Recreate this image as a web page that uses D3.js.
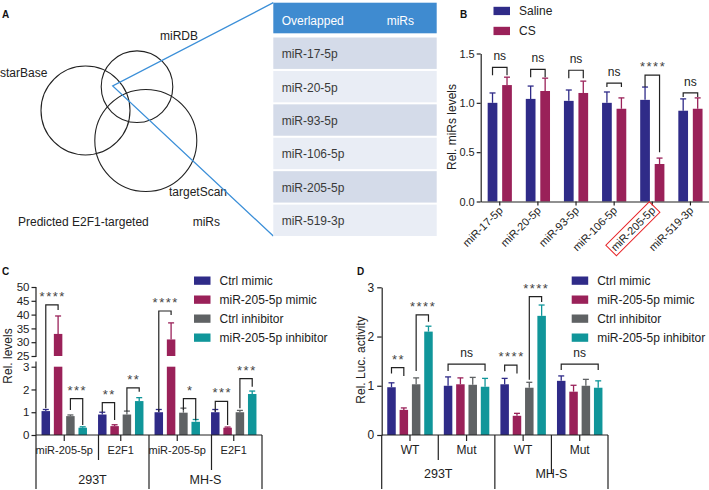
<!DOCTYPE html>
<html>
<head>
<meta charset="utf-8">
<script src="https://cdn.jsdelivr.net/npm/d3@7"></script>
<style>
  body { margin: 0; background: #fff; }
  svg { font-family: "Liberation Sans", Arial, sans-serif; }
</style>
</head>
<body>
<svg id="fig" width="709" height="490"></svg>
<script>
// ---- data ----
var vennSets = ["starBase", "miRDB", "targetScan"];
var vennCaption = ["Predicted E2F1-targeted", "miRs"];
var tableHeader = ["Overlapped", "miRs"];
var overlapMirs = ["miR-17-5p", "miR-20-5p", "miR-93-5p", "miR-106-5p", "miR-205-5p", "miR-519-3p"];

var bGroups = ["Saline", "CS"];
var bSaline = [1.00, 1.04, 1.02, 1.00, 1.03, 0.92];
var bSalineErr = [0.10, 0.13, 0.11, 0.11, 0.13, 0.12];
var bCS = [1.18, 1.12, 1.10, 0.94, 0.38, 0.94];
var bCSErr = [0.08, 0.13, 0.12, 0.11, 0.06, 0.11];
var bSig = ["ns", "ns", "ns", "ns", "****", "ns"];
var bSigTop = [1.36, 1.34, 1.33, 1.20, 1.28, 1.10];
var bSigLegs = [[1.28, 1.28], [1.26, 1.26], [1.25, 1.25], [1.16, 1.16], [1.16, 0.50], [1.06, 1.06]];
var bYTicks = [0, 0.5, 1.0, 1.5];
var bHighlight = "miR-205-5p";

var treatments = ["Ctrl mimic", "miR-205-5p mimic", "Ctrl inhibitor", "miR-205-5p inhibitor"];
var cellLines = ["293T", "MH-S"];

// panel C: rows = 293T miR-205-5p, 293T E2F1, MH-S miR-205-5p, MH-S E2F1
var cTargets = ["miR-205-5p", "E2F1"];
var cMean = [[1.05, 33.0, 0.83, 0.32], [0.90, 0.39, 0.90, 1.49], [1.00, 31.0, 0.98, 0.58], [1.00, 0.32, 1.00, 1.80]];
var cErr = [[0.07, 6.5, 0.05, 0.04], [0.10, 0.06, 0.15, 0.15], [0.12, 6.0, 0.20, 0.10], [0.12, 0.03, 0.08, 0.13]];
var cLowTicks = [0, 1, 2, 3];
var cHighTicks = [25, 30, 35, 40, 45, 50];
var cSig = [
  {sub: 0, pair: [0, 1], label: "****", top: 43.5, legs: [1.17, 41.7]},
  {sub: 0, pair: [2, 3], label: "***", top: 1.60, legs: [1.10, 0.44]},
  {sub: 1, pair: [0, 1], label: "**", top: 1.42, legs: [1.00, 0.66]},
  {sub: 1, pair: [2, 3], label: "**", top: 2.07, legs: [1.03, 1.90]},
  {sub: 2, pair: [0, 1], label: "****", top: 41.3, legs: [1.02, 39.9]},
  {sub: 2, pair: [2, 3], label: "*", top: 1.60, legs: [1.10, 0.66]},
  {sub: 3, pair: [0, 1], label: "***", top: 1.48, legs: [1.02, 0.44]},
  {sub: 3, pair: [2, 3], label: "***", top: 2.48, legs: [1.17, 2.12]}
];

// panel D
var dSites = ["WT", "Mut"];
var dMean = [[0.97, 0.51, 1.03, 2.10], [1.00, 1.03, 1.02, 0.98], [1.03, 0.39, 0.96, 2.42], [1.10, 0.88, 1.00, 0.96]];
var dErr = [[0.09, 0.04, 0.13, 0.11], [0.18, 0.13, 0.15, 0.17], [0.12, 0.05, 0.11, 0.22], [0.10, 0.13, 0.13, 0.14]];
var dTicks = [0, 1, 2, 3];
var dSig = [
  {sub: 0, pair: [0, 1], label: "**", top: 1.37, legs: [1.25, 1.20]},
  {sub: 0, pair: [2, 3], label: "****", top: 2.44, legs: [1.30, 2.30]},
  {sub: 1, pair: [0, 3], label: "ns", top: 1.44, legs: [1.30, 1.30]},
  {sub: 2, pair: [0, 1], label: "****", top: 1.42, legs: [1.29, 1.25]},
  {sub: 2, pair: [2, 3], label: "****", top: 2.81, legs: [1.12, 2.70]},
  {sub: 3, pair: [0, 3], label: "ns", top: 1.44, legs: [1.32, 1.32]}
];

// ---- style ----
var FONT = "'Liberation Sans', Arial, sans-serif";
var ink = "#222";
var barColors = ["#2f2b88", "#9a2159", "#5f6264", "#10969a"];

var svg = d3.select("#fig");

function panelLabel(t, x, y) {
  svg.append("text").attr("x", x).attr("y", y).attr("font-size", 10)
    .attr("font-weight", "bold").attr("fill", "#111").text(t);
}

function errorBars(g, data, fx, fy0, fy1, fc) {
  var e = g.selectAll(null).data(data).enter().append("g")
    .attr("stroke", fc).attr("stroke-width", 1.3);
  e.append("line").attr("x1", fx).attr("x2", fx).attr("y1", fy0).attr("y2", fy1);
  e.append("line").attr("x1", function(d) { return fx(d) - 3; })
    .attr("x2", function(d) { return fx(d) + 3; })
    .attr("y1", fy1).attr("y2", fy1);
}

function bracket(g, x1, x2, yTop, yL, yR, label) {
  g.append("path")
    .attr("d", "M" + x1 + "," + yL + "V" + yTop + "H" + x2 + "V" + yR)
    .attr("fill", "none").attr("stroke", ink).attr("stroke-width", 1.2);
  var star = label.indexOf("*") >= 0;
  g.append("text")
    .attr("x", (x1 + x2) / 2 + (star ? 0.8 : 0))
    .attr("y", star ? yTop - 4 : yTop - 7)
    .attr("text-anchor", "middle")
    .attr("font-size", star ? 13 : 12)
    .attr("letter-spacing", star ? "1.5px" : null)
    .attr("fill", star ? "#444" : ink)
    .text(label);
}

function legend(g, names, colors, x, y0, step) {
  var it = g.selectAll(null).data(names).enter().append("g")
    .attr("transform", function(d, i) { return "translate(" + x + "," + (y0 + i * step) + ")"; });
  it.append("rect").attr("x", 0).attr("y", -4).attr("width", 16.5).attr("height", 8.3)
    .attr("fill", function(d, i) { return colors[i]; });
  it.append("text").attr("x", 25.5).attr("y", 4.3).attr("font-size", 12).attr("fill", ink)
    .text(function(d) { return d; });
}

function yLabel(t, x, y) {
  svg.append("text").attr("transform", "translate(" + x + "," + y + ") rotate(-90)")
    .attr("text-anchor", "middle").attr("font-size", 12).attr("fill", ink).text(t);
}

function styleAxis(sel, size) {
  sel.attr("font-family", FONT).attr("font-size", size).attr("color", ink);
  sel.selectAll("line, path").attr("stroke-width", 1.2);
}

// ======== Panel A ========
panelLabel("A", 2, 18);
var gA = svg.append("g");
var vennGeom = [{cx: 85.5, cy: 110.5, r: 44.5}, {cx: 137, cy: 86.7, r: 35.8}, {cx: 145.8, cy: 140.5, r: 51}];
gA.selectAll("circle").data(vennSets).enter().append("circle")
  .attr("cx", function(d, i) { return vennGeom[i].cx; })
  .attr("cy", function(d, i) { return vennGeom[i].cy; })
  .attr("r", function(d, i) { return vennGeom[i].r; })
  .attr("fill", "none").attr("stroke", "#222").attr("stroke-width", 1.1);
var vennLabelPos = [[0, 77], [160, 40], [169, 196]];
gA.selectAll("text.venn").data(vennSets).enter().append("text")
  .attr("x", function(d, i) { return vennLabelPos[i][0]; })
  .attr("y", function(d, i) { return vennLabelPos[i][1]; })
  .attr("font-size", 12).attr("fill", ink).text(function(d) { return d; });
gA.selectAll("text.cap").data(vennCaption).enter().append("text")
  .attr("x", function(d, i) { return i === 0 ? 18 : 192.7; }).attr("y", 225.5)
  .attr("font-size", 12).attr("fill", ink).text(function(d) { return d; });

// table
var tX0 = 273.3, tX1 = 436.7;
var rowY = d3.scaleBand().domain(overlapMirs).range([37.5, 236]).paddingInner(0.06);
gA.append("path")
  .attr("d", "M" + tX0 + ",2.7L112.7,86L" + tX0 + ",236")
  .attr("fill", "none").attr("stroke", "#3b8fd8").attr("stroke-width", 1.3);
gA.append("rect").attr("x", tX0).attr("y", 2.7).attr("width", tX1 - tX0).attr("height", 30.6)
  .attr("fill", "#3f8bd0");
gA.selectAll("text.hd").data(tableHeader).enter().append("text")
  .attr("x", function(d, i) { return i === 0 ? 281.7 : 386.7; }).attr("y", 25)
  .attr("font-size", 12).attr("fill", "#fff").text(function(d) { return d; });
gA.selectAll("rect.row").data(overlapMirs).enter().append("rect")
  .attr("x", tX0).attr("width", tX1 - tX0)
  .attr("y", function(d) { return rowY(d); }).attr("height", rowY.bandwidth())
  .attr("fill", function(d, i) { return i % 2 === 0 ? "#d4dbe9" : "#e9edf5"; });
gA.selectAll("text.row").data(overlapMirs).enter().append("text")
  .attr("x", 281.7).attr("y", function(d) { return rowY(d) + rowY.bandwidth() / 2 + 5; })
  .attr("font-size", 12).attr("fill", "#3a3a3a").text(function(d) { return d; });

// ======== Panel B ========
panelLabel("B", 460, 18);
var gB = svg.append("g");
var xB = d3.scaleBand().domain(overlapMirs).range([480.7, 709.5]);
var xBin = d3.scaleBand().domain(bGroups).range([0, xB.bandwidth()]).paddingInner(0.33).paddingOuter(0.48);
var yB = d3.scaleLinear().domain([0, 1.5]).range([201.5, 53.5]);
var bColor = d3.scaleOrdinal().domain(bGroups).range([barColors[0], barColors[1]]);

var bFlat = [];
overlapMirs.forEach(function(m, i) {
  bFlat.push({mir: m, grp: "Saline", v: bSaline[i], e: bSalineErr[i]});
  bFlat.push({mir: m, grp: "CS", v: bCS[i], e: bCSErr[i]});
});
function bCx(d) { return xB(d.mir) + xBin(d.grp) + xBin.bandwidth() / 2; }

errorBars(gB, bFlat, bCx, function(d) { return yB(d.v); }, function(d) { return yB(d.v + d.e); },
  function(d) { return bColor(d.grp); });
gB.selectAll("rect.bar").data(bFlat).enter().append("rect")
  .attr("x", function(d) { return xB(d.mir) + xBin(d.grp); })
  .attr("width", xBin.bandwidth())
  .attr("y", function(d) { return yB(d.v); })
  .attr("height", function(d) { return yB(0) - yB(d.v); })
  .attr("fill", function(d) { return bColor(d.grp); });

var axBy = gB.append("g").attr("transform", "translate(480.7,0)")
  .call(d3.axisLeft(yB).tickValues(bYTicks).tickFormat(d3.format(".1f")).tickSize(4).tickSizeOuter(0).tickPadding(2));
styleAxis(axBy, 11);
var axBx = gB.append("g").attr("transform", "translate(0,201.5)")
  .call(d3.axisBottom(xB).tickSize(4).tickSizeOuter(0));
styleAxis(axBx, 11);
axBx.selectAll(".tick text")
  .attr("text-anchor", "end")
  .attr("transform", "translate(1,7) rotate(-45)")
  .attr("y", 0).attr("dy", "0.35em");
axBx.selectAll(".tick").filter(function(d) { return d === bHighlight; }).each(function() {
  var t = d3.select(this).select("text");
  var bb = t.node().getBBox();
  d3.select(this).insert("rect", "text")
    .attr("x", bb.x - 2).attr("y", bb.y - 1.5).attr("width", bb.width + 4).attr("height", bb.height + 3)
    .attr("transform", t.attr("transform"))
    .attr("fill", "none").attr("stroke", "#e8262b").attr("stroke-width", 1);
});

overlapMirs.forEach(function(m, i) {
  var x1 = xB(m) + xBin("Saline") + xBin.bandwidth() / 2;
  var x2 = xB(m) + xBin("CS") + xBin.bandwidth() / 2;
  bracket(gB, x1, x2, yB(bSigTop[i]), yB(bSigLegs[i][0]), yB(bSigLegs[i][1]), bSig[i]);
});
legend(gB, bGroups, [barColors[0], barColors[1]], 493.5, 10.8, 20);
yLabel("Rel. miRs levels", 455.5, 127);

// ======== shared grouped-bar helpers (C, D) ========
function nestedAxis(g, xG, y0, subNames, subFont, subBase, cellBase, innerEnds, innerShift) {
  var r = xG.range(), bw = xG.bandwidth();
  var ln = function(x1, y1, x2, y2) {
    g.append("line").attr("x1", x1).attr("y1", y1).attr("x2", x2).attr("y2", y2)
      .attr("stroke", ink).attr("stroke-width", 1.2);
  };
  ln(r[0], y0, r[1], y0);
  xG.domain().forEach(function(k, i) {
    ln(xG(k) + bw / 2, y0, xG(k) + bw / 2, y0 + 6);
    if (i % 2 === 1) ln(xG(k) + innerShift, y0, xG(k) + innerShift, innerEnds[(i - 1) / 2]);
  });
  ln(r[0], y0, r[0], 489);
  ln(xG(2), y0, xG(2), 489);
  ln(r[1], y0, r[1], 489);
  g.selectAll(null).data(xG.domain()).enter().append("text")
    .attr("x", function(k) { return xG(k) + bw / 2; }).attr("y", subBase)
    .attr("text-anchor", "middle").attr("font-size", subFont).attr("fill", ink)
    .text(function(k, i) { return subNames[i]; });
  g.selectAll(null).data(cellLines).enter().append("text")
    .attr("x", function(c, i) { return i === 0 ? (r[0] + xG(2)) / 2 : (xG(2) + r[1]) / 2; })
    .attr("y", cellBase).attr("text-anchor", "middle").attr("font-size", 12.5).attr("fill", ink)
    .text(function(c) { return c; });
}

function flatten(means, errs) {
  var out = [];
  means.forEach(function(row, s) {
    row.forEach(function(v, t) { out.push({sub: s, trt: treatments[t], ti: t, v: v, e: errs[s][t]}); });
  });
  return out;
}

// ======== Panel C ========
panelLabel("C", 2, 275);
var gC = svg.append("g");
var xC = d3.scaleBand().domain([0, 1, 2, 3]).range([36, 262]);
var xCin = d3.scaleBand().domain(treatments).range([0, xC.bandwidth()]).paddingInner(0.31).paddingOuter(0.45);
var yCLow = d3.scaleLinear().domain([0, 3]).range([435, 366.7]);
var yCHigh = d3.scaleLinear().domain([25, 50]).range([356, 287]);
function yC(v) { return v <= 3 ? yCLow(v) : yCHigh(v); }
var cFlat = flatten(cMean, cErr);
function cX(d) { return xC(d.sub) + xCin(d.trt); }
function cCx(d) { return cX(d) + xCin.bandwidth() / 2; }

errorBars(gC, cFlat, cCx, function(d) { return yC(d.v); }, function(d) { return yC(d.v + d.e); },
  function(d) { return barColors[d.ti]; });
gC.selectAll("rect.low").data(cFlat).enter().append("rect")
  .attr("x", cX).attr("width", xCin.bandwidth())
  .attr("y", function(d) { return yCLow(Math.min(d.v, 3)); })
  .attr("height", function(d) { return yCLow(0) - yCLow(Math.min(d.v, 3)); })
  .attr("fill", function(d) { return barColors[d.ti]; });
gC.selectAll("rect.high").data(cFlat.filter(function(d) { return d.v > 3; })).enter().append("rect")
  .attr("x", cX).attr("width", xCin.bandwidth())
  .attr("y", function(d) { return yCHigh(d.v); })
  .attr("height", function(d) { return yCHigh(25) - yCHigh(d.v); })
  .attr("fill", function(d) { return barColors[d.ti]; });

var axCl = gC.append("g").attr("transform", "translate(36,0)")
  .call(d3.axisLeft(yCLow).tickValues(cLowTicks).tickFormat(d3.format("d")).tickSize(4.5).tickSizeOuter(0).tickPadding(2));
var axCh = gC.append("g").attr("transform", "translate(36,0)")
  .call(d3.axisLeft(yCHigh).tickValues(cHighTicks).tickFormat(d3.format("d")).tickSize(4.5).tickSizeOuter(0).tickPadding(2));
[axCl, axCh].forEach(function(a) { styleAxis(a, 11.5); a.select(".domain").remove(); });
gC.append("line").attr("x1", 36).attr("x2", 36).attr("y1", 435).attr("y2", 361.5).attr("stroke", ink).attr("stroke-width", 1.2);
gC.append("line").attr("x1", 36).attr("x2", 36).attr("y1", 357).attr("y2", 287).attr("stroke", ink).attr("stroke-width", 1.2);

nestedAxis(gC, xC, 435, [cTargets[0], cTargets[1], cTargets[0], cTargets[1]], 11, 454, 484, [460, 470], 6);
cSig.forEach(function(s) {
  var x1 = xC(s.sub) + xCin(treatments[s.pair[0]]) + xCin.bandwidth() / 2;
  var x2 = xC(s.sub) + xCin(treatments[s.pair[1]]) + xCin.bandwidth() / 2;
  bracket(gC, x1, x2, yC(s.top), yC(s.legs[0]), yC(s.legs[1]), s.label);
});
legend(gC, treatments, barColors, 194, 280.5, 19);
yLabel("Rel. levels", 12, 356);

// ======== Panel D ========
panelLabel("D", 357, 275);
var gD = svg.append("g");
var xD = d3.scaleBand().domain([0, 1, 2, 3]).range([381.7, 608]);
var xDin = d3.scaleBand().domain(treatments).range([0, xD.bandwidth()]).paddingInner(0.31).paddingOuter(0.45);
var yD = d3.scaleLinear().domain([0, 3]).range([435, 287.3]);
var dFlat = flatten(dMean, dErr);
function dX(d) { return xD(d.sub) + xDin(d.trt); }
function dCx(d) { return dX(d) + xDin.bandwidth() / 2; }

errorBars(gD, dFlat, dCx, function(d) { return yD(d.v); }, function(d) { return yD(d.v + d.e); },
  function(d) { return barColors[d.ti]; });
gD.selectAll("rect.bar").data(dFlat).enter().append("rect")
  .attr("x", dX).attr("width", xDin.bandwidth())
  .attr("y", function(d) { return yD(d.v); })
  .attr("height", function(d) { return yD(0) - yD(d.v); })
  .attr("fill", function(d) { return barColors[d.ti]; });

var axD = gD.append("g").attr("transform", "translate(381.7,0)")
  .call(d3.axisLeft(yD).tickValues(dTicks).tickFormat(d3.format("d")).tickSize(4.5).tickSizeOuter(0).tickPadding(3));
styleAxis(axD, 12);
nestedAxis(gD, xD, 435, [dSites[0], dSites[1], dSites[0], dSites[1]], 12, 453.5, 478, [460, 473], 0);
dSig.forEach(function(s) {
  var x1 = xD(s.sub) + xDin(treatments[s.pair[0]]) + xDin.bandwidth() / 2;
  var x2 = xD(s.sub) + xDin(treatments[s.pair[1]]) + xDin.bandwidth() / 2;
  bracket(gD, x1, x2, yD(s.top), yD(s.legs[0]), yD(s.legs[1]), s.label);
});
legend(gD, treatments, barColors, 571.7, 280.5, 19);
yLabel("Rel. Luc. activity", 365, 360);
</script>
</body>
</html>
